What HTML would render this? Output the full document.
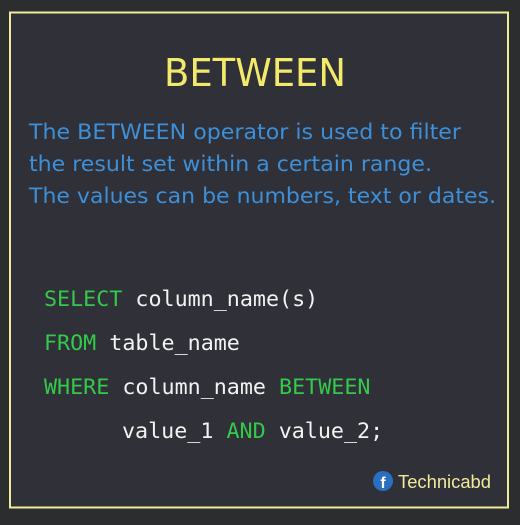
<!DOCTYPE html>
<html><head><style>
html,body{margin:0;padding:0;background:#2c2d2e;}
</style></head><body>
<svg width="520" height="520" xmlns="http://www.w3.org/2000/svg">
<rect x="0" y="0" width="520" height="520" fill="#2c2d2e"/>
<rect x="10" y="12.5" width="498" height="495" fill="#303038" stroke="#f0ea9a" stroke-width="2"/>
<text x="255" y="86" text-anchor="middle" font-family="DejaVu Sans, sans-serif" font-size="38" fill="#f3ea6c" textLength="182" lengthAdjust="spacingAndGlyphs">BETWEEN</text>
<g font-family="DejaVu Sans, sans-serif" font-size="21.5" fill="#3d8fd8">
<text x="29" y="139" textLength="432" lengthAdjust="spacingAndGlyphs">The BETWEEN operator is used to filter</text>
<text x="29" y="171" textLength="403" lengthAdjust="spacingAndGlyphs">the result set within a certain range.</text>
<text x="29" y="203" textLength="467" lengthAdjust="spacingAndGlyphs">The values can be numbers, text or dates.</text>
</g>
<g font-family="DejaVu Sans Mono, Liberation Mono, monospace" font-size="21.7" fill="#f2f2f2" xml:space="preserve">
<text x="44" y="306"><tspan fill="#34c94a">SELECT</tspan> column_name(s)</text>
<text x="44" y="350"><tspan fill="#34c94a">FROM</tspan> table_name</text>
<text x="44" y="394"><tspan fill="#34c94a">WHERE</tspan> column_name <tspan fill="#34c94a">BETWEEN</tspan></text>
<text x="122" y="438">value_1 <tspan fill="#34c94a">AND</tspan> value_2;</text>
</g>
<circle cx="383" cy="481" r="10" fill="#2a6fc0"/>
<text x="383" y="488" text-anchor="middle" font-family="Liberation Sans, sans-serif" font-weight="bold" font-size="16" fill="#fff">f</text>
<text x="398" y="488" font-family="Liberation Sans, sans-serif" font-size="18" fill="#f0ea9a" textLength="93" lengthAdjust="spacingAndGlyphs">Technicabd</text>
</svg>
</body></html>
